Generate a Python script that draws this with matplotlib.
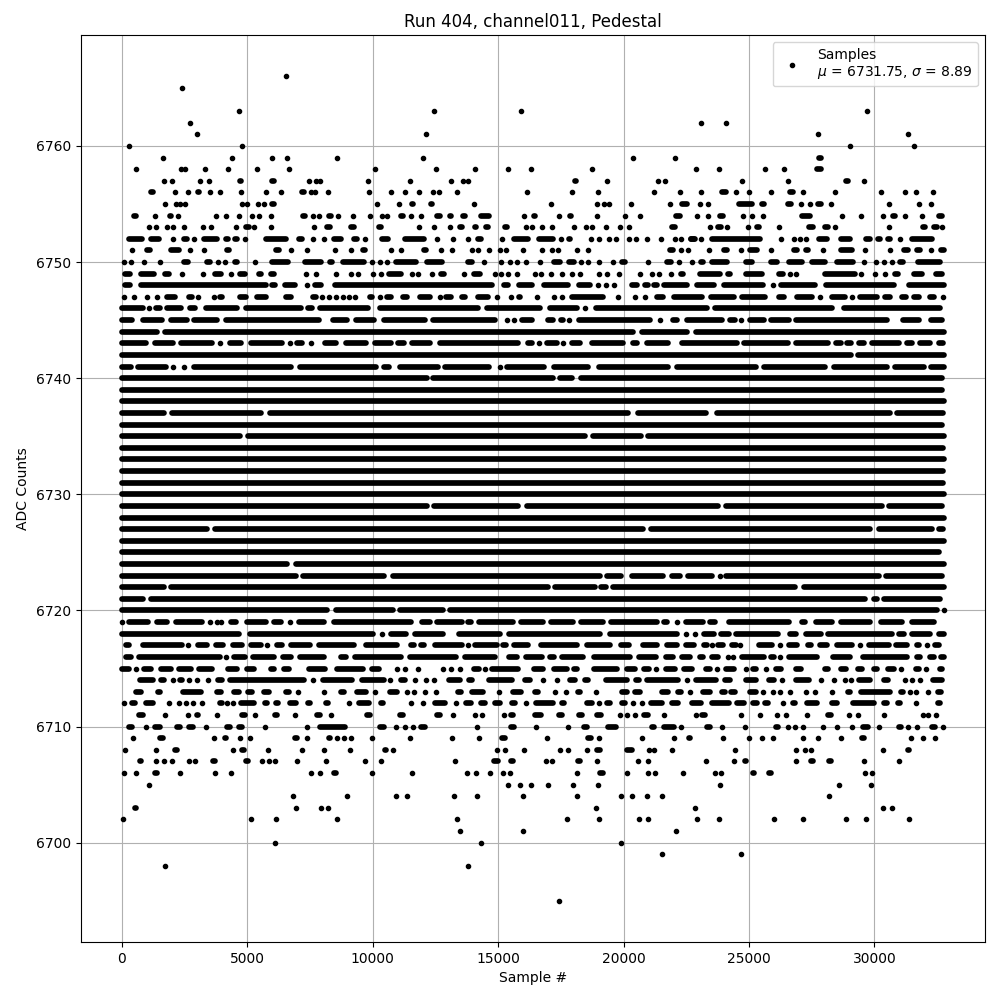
import matplotlib
matplotlib.use("Agg")
import matplotlib.pyplot as plt

TITLE = "Run 404, channel011, Pedestal"
XLABEL = "Sample #"
YLABEL = "ADC Counts"
LEGEND = "Samples\n$\\mu$ = 6731.75, $\\sigma$ = 8.89"
LAST_SAMPLE = 32767

# Sample numbers read per ADC level. A number is one sample; a pair is a run
# of samples that overlap into one unbroken stretch in the picture.
r6766 = [6570]
r6765 = [2420]
r6763 = [4695, 12435, 15905, 29710]
r6762 = [2740, 23085, 24080]
r6761 = [3020, 12115, 27755, 31345]
r6760 = [306, 4815, 29030, 31585]
r6759 = [1660, 4415, 6010, 6610, 8565, 11995, 20370, 22050, (27755, 27925)]
r6758 = [585, 2380, 2540, 3340, 4255, 5410, 6690, 10080, 12510, 14070, 15385, 16305, 18735, 22885, 23805, 25640, 26395, (27635, 27950), (30110, 30175)]
r6757 = [1700, 2020, 3140, 3470, (4700, 4770), (5945, 6130), 7450, 7730, 7925, 9800, 11475, 13110, 13590, 13790, (18020, 18150), 19335, 21370, 21650, 24720, 26555, (28820, 28990), 29590]
r6756 = [(1155, 1290), 2140, 2660, (3020, 3125), 3540, 3935, 4775, 5770, 6370, (7180, 7290), 7530, 7690, 8205, 9840, 10720, 11275, 11835, 12395, 12630, 13350, 16145, 17940, 18975, 21210, 22234, 23085, (23830, 24190), 24480, 25000, 25880, (26595, 26795), 27155, 28430, 30265, 31225, 31665, 32340]
r6755 = [1740, 2180, 2340, 2540, 4815, 5015, 5450, 5690, (5930, 6145), 10160, 11063, (11560, 11640), (12300, 12400), 14030, 17100, 18935, 19215, 19415, 20295, 21850, (22234, 22635), 23045, 23365, (24495, 25225), (25465, 25665), (26515, 26715), 27075, 27435, (27715, 27915), 28270, 30585, 31780, 32260]
r6754 = [(465, 625), 1345, (1900, 2000), 2260, 3775, 4175, 4695, 5215, 5490, 5970, (7170, 7330), 7610, 7885, (8205, 8390), 8605, 9205, 9880, 10360, 10560, (11100, 11230), 11515, 11915, (12525, 12765), (13065, 13170), (13590, 13710), (14230, 14750), 16025, (16430, 16500), 17420, (17830, 17930), 18935, 20055, 20655, (22030, 22300), 22925, 23365, (23805, 24030), 24760, 25120, 25560, (27020, 27555), 28710, 29470, 30345, (30680, 30850), 31225, 31905, (32540, 32740)]
r6753 = [1105, 1385, 1820, 2060, 2500, 3260, 3580, 4575, (4920, 5120), 5280, 5970, 7650, (8130, 8380), (9085, 9320), (10240, 10370), 11835, 12435, 13070, (13430, 13590), (14070, 14130), (14500, 14610), (15270, 15370), 16105, 16345, 16740, 17140, 18020, 18495, 18735, 19295, 19855, 20215, (21890, 22100), 23445, (23725, 23925), 24120, 24960, (25265, 25425), 26195, (27290, 27660), (27950, 28190), 28430, 30585, (31875, 32050), (32340, 32540), 32700]
r6752 = [(170, 905), (1065, 1595), 2060, (2420, 2660), 2900, (3180, 3900), (4135, 4295), (4455, 4655), 4935, (5650, 6650), (7010, 7250), 7610, 8085, (8340, 8845), (9205, 9445), 9680, (10280, 10705), (11200, 12150), 12555, 13190, 13790, (14120, 14390), 15160, (15520, 16320), (16520, 17315), 17500, (17780, 17910), 18695, 19015, 19415, 19710, 20215, 20505, 20930, 21505, 22035, 22300, (22635, 22900), (22605, 22900), 23085, (23430, 25560), 26275, 26795, 27035, 27275, (27685, 28220), (28550, 29150), (29615, 29880), (30110, 30280), (30480, 30680), 31025, (31385, 32410)]
r6751 = [425, (985, 1155), (1860, 2380), 2740, 3300, (4135, 4335), (6090, 6330), 6770, 7370, 8510, 9125, (9565, 9760), 10720, 11130, (11995, 12195), 12725, 13150, 13950, 14190, 14630, 15065, 15305, 15985, 16740, 17140, 17380, 18140, 18580, (21810, 22035), 22290, 22565, 23405, (23925, 24190), 24680, (24920, 25425), 25880, (26755, 26955), (27220, 27420), 27955, (28550, 29215), 29630, 30625, (31080, 31410), (31610, 31875), 32260, (32580, 32835)]
r6750 = [105, 385, 905, 1545, (2380, 2740), (3340, 3580), 3855, 4135, (4455, 4655), 5335, (5890, 6730), (7210, 8045), (8245, 8445), (8725, 9775), 9960, 10280, 10560, (10840, 11860), (12060, 12860), (13720, 14055), 14430, 15120, 15465, 15745, 16115, 16660, (17115, 17580), (17710, 18110), 18300, 18580, 19015, 19575, (19905, 20105), 20970, (21635, 21970), 22210, 22715, (23030, 23230), (23405, 24230), (24760, 25225), (25760, 26225), (26490, 27220), (27395, 28150), (28390, 29255), 29590, 30065, 30385, 30705, (30945, 31210), (31610, 32740)]
r6749 = [(65, 425), (665, 1385), (1660, 1940), 2420, 3260, (3620, 4055), 4375, (4615, 5015), (5415, 5615), (5890, 6130), 7330, 7730, 8525, 9125, 9405, 10000, 10320, (10560, 11260), 11555, 11795, 12355, (12660, 12925), 13655, (13925, 14390), 14880, 15120, 15410, 15745, 16460, 16700, 17100, 17540, 17940, 18285, 19040, 19335, 19840, 20640, 21130, 21410, 21890, (22234, 22435), (22925, 23965), (24095, 24295), (24760, 25625), (26090, 26465), 26625, 26890, (27925, 29350), 29470, 30030, 30425, (30745, 31010), (31450, 32010), (32340, 32810)]
r6748 = [(65, 425), (665, 5850), (5920, 6185), (6410, 7010), 7370, (7610, 8045), (8405, 14855), (15185, 15450), (15720, 16450), (16715, 17910), (18110, 18775), 18975, 19310, 19640, (20240, 20640), (20770, 21040), (21170, 21370), (21505, 22635), (22830, 23735), (23895, 25665), 25960, (26155, 27755), (27955, 30880), (31275, 32870)]
r6747 = [105, 505, 1025, 1425, (1700, 2220), (2620, 2860), 3060, 3700, (3900, 4055), (4615, 5055), (5295, 5850), (6435, 6850), (7530, 7845), 8005, 8245, 8550, 8805, 9045, 9320, (9840, 10040), 10280, (10480, 10840), (11130, 11435), (11795, 12395), 12685, (12860, 13190), (13525, 13725), (14095, 14720), 14945, 15520, (15785, 15920), 16545, 17250, 17540, (17845, 19310), 19775, 20465, 20865, (21235, 21700), (21900, 23230), (23365, 24495), (24630, 25760), (26090, 26515), (26820, 27620), 27835, (28190, 28950), 29110, (29310, 30215), (30305, 30705), (31010, 31345), (31475, 31875), (32115, 32450), 32740]
r6746 = [(0, 970), 1105, (1300, 1595), (1700, 2460), (2660, 2990), (3260, 4720), (4855, 7250), (7355, 7650), (7780, 9910), (10175, 14320), (14455, 16780), (16980, 18245), 18470, (18775, 23430), (23525, 28420), (28685, 32740)]
r6745 = [(0, 530), (730, 1730), (1860, 2730), (2790, 3900), (4055, 7980), (8310, 9110), (9245, 10175), (10335, 12195), (12285, 14985), 15345, 15625, (15850, 16450), (16890, 17285), (17445, 17645), 17820, (18110, 21170), 21465, (21900, 22210), (22435, 24030), (24160, 24520), 24680, (24920, 25690), (25760, 26690), (26755, 30610), (31040, 31875), (32145, 32810)]
r6744 = [(0, 1530), (1635, 20505), (20640, 22635), (22765, 32870)]
r6743 = [(0, 1090), (1235, 2155), (2275, 3725), 3935, (4190, 4855), (5055, 6515), 6715, (6875, 7315), 7540, (7980, 8645), (8820, 9840), (9975, 10840), (10905, 11355), (11460, 12395), (12595, 15920), (16090, 16450), 16620, (16850, 17445), 17580, (17820, 18380), (18620, 20080), (20305, 20640), (20840, 21900), (22235, 24630), (24695, 26650), (26755, 28245), (28380, 28750), (28815, 29150), (29285, 29680), (29775, 31080), (31210, 31610), (31705, 32340), (32500, 32810)]
r6742 = [(0, 29175), (29245, 32870)]
r6741 = [(0, 465), (560, 1860), 2050, 2490, (2790, 6850), (6985, 10240), (10375, 10770), (10970, 12725), (12790, 14760), 15090, (15250, 16940), (17115, 18710), (18910, 21900), (22035, 25400), (25490, 28150), (28260, 30610), (30705, 32075), (32145, 32870)]
r6740 = [(0, 12260), (12300, 17290), (17340, 18070), (18180, 32790)]
r6739 = [(0, 32810)]
r6738 = [(0, 32870)]
r6737 = [(0, 1800), (1880, 5680), (5785, 20305), (20480, 23390), (23605, 30720), (30785, 32845)]
r6736 = [(0, 32810)]
r6735 = [(0, 4830), (4935, 18580), (18685, 20810), (20865, 32870)]
r6734 = [(0, 32845)]
r6733 = [(0, 32870)]
r6732 = [(0, 32845)]
r6731 = [(0, 32845)]
r6730 = [(0, 32870)]
r6729 = [(0, 12285), (12350, 15920), (16050, 23895), (23965, 30415), (30480, 32810)]
r6728 = [(0, 32870)]
r6727 = [(0, 3500), (3620, 20905), (20970, 29950), (30080, 32410), (32515, 32810)]
r6726 = [(0, 32870)]
r6725 = [(0, 32675)]
r6724 = [(0, 6715), (6825, 32870)]
r6723 = [(0, 7050), (7115, 10575), (10705, 19175), (19240, 20000), (20215, 21700), (21835, 22370), (22475, 23630), 23830, (23990, 30280), (30345, 32810)]
r6722 = [(0, 1795), (1860, 17115), (17180, 18975), (19015, 19375), (19470, 26955), (27090, 32870)]
r6721 = [(0, 970), (1065, 29750), (29920, 30185), (30280, 32740)]
r6720 = [(0, 8310), (8445, 10905), (11000, 12925), (12990, 32610), 32780]
r6719 = [0, (200, 1170), (1290, 1900), (2060, 3325), 3525, 3790, 3950, (4255, 4655), (4895, 5850), (5945, 6450), 6715, (6960, 8180), (8340, 11660), (11860, 12395), (12460, 13655), (13720, 14000), (14150, 15720), (15825, 16890), (17010, 18110), (18180, 19280), (19375, 21435), (21570, 21770), 22130, (22395, 23270), (23365, 23765), (24095, 26690), (27050, 27315), (27555, 28420), (28550, 29950), (30150, 31210), (31385, 32500)]
r6718 = [(0, 4790), (4990, 10110), 10375, (10640, 11460), (11595, 12900), (13350, 15185), (15320, 19175), (19340, 22235), 22500, 22860, (23100, 23700), (23765, 24295), (24360, 26250), (26515, 26995), (27155, 27980), (28045, 30810), (30880, 31250), (31385, 32315), (32475, 32845)]
r6717 = [(130, 330), (730, 2530), 2660, (2925, 3500), (3660, 4165), (4320, 4920), (5055, 5650), 5810, (6120, 6480), (6650, 7610), (7755, 9375), (9640, 11100), (11460, 11730), (11860, 12100), (12395, 13655), 13790, (13960, 15050), (15120, 15385), (15520, 16315), (16585, 18245), (18445, 19575), (19775, 20345), (20665, 21435), (21635, 22235), (22395, 22900), (23165, 23365), 23525, (23700, 24030), (24230, 24560), 24655, (25290, 26025), 26250, (26465, 27020), (27290, 27530), (27715, 28220), (28380, 29215), 29415, (29680, 30680), (30745, 31410), (31650, 31810), 32075, (32340, 32675)]
r6716 = [(65, 465), (570, 4030), 4165, (4350, 5015), (5120, 6185), (6320, 6850), (6985, 8180), (8645, 9020), (9180, 11260), (11395, 13455), (13590, 14985), (15345, 15850), (15985, 16850), (17010, 17285), (17450, 18510), (18710, 20370), (20505, 21410), (21570, 22100), (22235, 22765), (23005, 23230), (23430, 23895), 24160, 24360, (24630, 25690), (25850, 26025), 26250, (26490, 27820), (28220, 29150), (29415, 31410), (31610, 31875), (32145, 32475), (32610, 32810)]
r6715 = [(0, 400), 560, (800, 1300), (1465, 2090), (2195, 2860), (2990, 3700), (4125, 4695), (4880, 5385), (5920, 6120), (6385, 6780), (7355, 8220), (8485, 9710), (9880, 10375), 10970, 11290, 11795, 12790, 13125, 13500, (13960, 14320), 14470, (14655, 15920), (16315, 16915), (17115, 17845), (17980, 18180), (18710, 19840), (20040, 20570), (20705, 21105), 21305, (21570, 22170), (22300, 22835), (23230, 23500), 23725, (23965, 24495), 24865, (25095, 25360), 25680, (25995, 26385), (26795, 27155), (27955, 28220), (28550, 28950), (29285, 29575), (29950, 30150), (30415, 30880), 31065, (31610, 31810), 32065, (32580, 32715)]
r6714 = [(625, 1370), (1530, 1755), 2060, (2260, 2460), 2700, 2990, 3460, (3790, 4055), (4190, 7380), 7620, (7915, 9310), (9480, 10575), 10705, (11040, 11355), 11675, 12125, 12445, (12925, 13590), (13790, 14015), (14520, 15650), (15955, 16385), 16780, 17340, (17780, 18180), (18405, 18670), (19200, 20240), (20440, 20665), (20840, 22300), 22530, (22795, 23805), (23965, 24360), (24790, 25400), (25720, 26090), 26320, (26755, 27490), 27875, 28390, 28815, 29070, (29285, 29950), (30305, 30610), 31235, 31515, 31810, (32235, 32810)]
r6713 = [(490, 865), (1395, 1595), (2330, 3260), (3725, 4055), (4350, 4790), (4960, 5295), (5560, 5985), (6475, 6745), 7035, 8060, (8685, 8940), (9270, 9840), 10095, (10600, 11100), 11355, 11635, 12075, 12510, (13350, 13590), (13855, 14495), 15025, (15490, 16010), (16425, 16650), 17260, 17700, (18115, 18325), 18910, (19840, 20240), (20370, 20770), (21435, 21900), (22130, 22340), 22645, (23060, 23565), (23895, 24070), (24230, 24495), (24960, 25360), 25560, 25960, 26240, 26635, 27275, 27635, 28310, (28925, 29085), (29350, 30745), (31010, 31170), 31410, 31665, 32115, (32450, 32740)]
r6712 = [105, (330, 600), (865, 1370), 1890, 2300, 2570, 2860, 3220, (3855, 4055), 4215, 4455, (4630, 5385), (5650, 5850), (6120, 6280), (6585, 7075), (7355, 7580), (8115, 8270), 9070, (9335, 9975), (10280, 10440), 11530, 11995, (12395, 12990), 13325, (13615, 14015), (14230, 14545), (14785, 15185), (15520, 15720), 16105, (16385, 17315), (17525, 17645), (18445, 18845), 19015, (19310, 19510), (19905, 20105), 20370, 20730, (20970, 21635), (21835, 22300), (22635, 23205), (23430, 24295), (24430, 24895), (25055, 25425), (25560, 25825), 26355, (26690, 26890), (27220, 27820), (28220, 28620), (29020, 30080), (30345, 30545), (30880, 31080), 31640, (32475, 32675)]
r6711 = [(600, 930), 1740, 2660, (2965, 3085), 3815, (4750, 4990), 5335, (6050, 6250), 6890, (7755, 7940), 8325, (9710, 9935), (11063, 11260), (12525, 12765), 13190, 14070, 14350, 15225, (15480, 15650), (16385, 16810), (17380, 17580), (18180, 18380), (18845, 19200), 19855, 20135, 20450, (20730, 21065), 21610, 22885, (23100, 23270), 24680, 25440, 26115, 26475, 27315, (28085, 28350), 28990, 29350, 30385, 31940, 32145, 32460]
r6710 = [(250, 465), 985, (1265, 1595), (2170, 2370), (2580, 2925), 3365, (4165, 4350), (4615, 4880), 5730, 7370, (7805, 9005), (10240, 10505), 10945, 11275, 11595, (11835, 12195), 14150, (15450, 15720), 16500, 17780, (18380, 18580), (19280, 19815), (21065, 21275), (21505, 22130), 22300, (23270, 23500), 23925, 24840, (26025, 26195), 26555, 26835, 27155, 27955, 28510, 29110, (29455, 29815), 30185, (30945, 31120), 31345, 31705, (32235, 32450), 32740]
r6709 = [465, (1500, 1690), 3700, (4085, 4190), 4735, 5135, (6850, 7010), 7370, (8245, 8350), 8565, 8845, 9125, 9960, 11475, 13150, 14230, (15120, 15320), 16940, (18540, 18750), 19015, 20730, 22010, (22565, 22675), 23965, 25000, 25520, 25960, 27155, 27755, 28670, (29480, 29615), 31465, 31940, 32420]
r6708 = [145, 1385, (2090, 2260), 4455, (4790, 4895), 5850, 7170, 8085, 9085, (10465, 10575), 10800, 14945, 15265, 16025, 17460, 17780, 18540, (18910, 19110), (20040, 20440), 21010, 21210, 21930, 24440, 26875, 27235, 27475, 30345, (31320, 31410)]
r6707 = [(705, 810), 1385, 1700, 2020, 2700, 2940, (3620, 3775), (4895, 5080), 5610, 5890, 6130, 6970, 8125, 9680, 10320, 13270, (14785, 15080), (15450, 15650), 16900, 17140, (18140, 18310), 18935, 20570, 20970, 23285, 24400, (24790, 24920), 26875, (27435, 27595), (28150, 28310), 29590, 30985]
r6706 = [105, 585, (1290, 1450), 2340, 3735, 4375, 7530, 7925, (8405, 8565), 9960, 11555, 13750, 14110, 14670, 15185, 15465, 18140, (18975, 19270), 20135, 20970, 21250, 22370, 23645, 23885, (25160, 25225), (25760, 25920), 29630, 29910]
r6705 = [1105, 15385, 15865, 16305, 16980, 17980, 18975, 23845, 28590, 29870]
r6704 = [6810, 8965, 10920, 11355, 13230, 14150, 15985, 18140, 19895, 20335, 20930, 21530, 28190]
r6703 = [(505, 600), 6930, 7965, 8205, 18895, 22845, 30345, 30705]
r6702 = [65, 5175, 6170, 8565, 13350, 17740, 19015, 20610, 20970, 22925, 23805, 26000, 27155, 28870, 29670, 31385]
r6701 = [13470, 15985, 22090]
r6700 = [6130, 14310, 19895]
r6699 = [21530, 24680]
r6698 = [1740, 13790]
r6695 = [17420]

levels = [6766, 6765, 6763, 6762, 6761, 6760, 6759, 6758, 6757, 6756, 6755, 6754, 6753, 6752, 6751,
          6750, 6749, 6748, 6747, 6746, 6745, 6744, 6743, 6742, 6741, 6740, 6739, 6738, 6737, 6736,
          6735, 6734, 6733, 6732, 6731, 6730, 6729, 6728, 6727, 6726, 6725, 6724, 6723, 6722, 6721,
          6720, 6719, 6718, 6717, 6716, 6715, 6714, 6713, 6712, 6711, 6710, 6709, 6708, 6707, 6706,
          6705, 6704, 6703, 6702, 6701, 6700, 6699, 6698, 6695]
rows = [r6766, r6765, r6763, r6762, r6761, r6760, r6759, r6758, r6757, r6756, r6755, r6754, r6753, r6752, r6751,
        r6750, r6749, r6748, r6747, r6746, r6745, r6744, r6743, r6742, r6741, r6740, r6739, r6738, r6737, r6736,
        r6735, r6734, r6733, r6732, r6731, r6730, r6729, r6728, r6727, r6726, r6725, r6724, r6723, r6722, r6721,
        r6720, r6719, r6718, r6717, r6716, r6715, r6714, r6713, r6712, r6711, r6710, r6709, r6708, r6707, r6706,
        r6705, r6704, r6703, r6702, r6701, r6700, r6699, r6698, r6695]

single_x, single_y, run_y, run_a, run_b = [], [], [], [], []
for level, row in zip(levels, rows):
    for item in row:
        if isinstance(item, tuple):
            a, b = item
            inset = min(110, (b - a) * 0.25)
            run_y.append(level)
            run_a.append(a if a == 0 else a + inset)
            run_b.append(min(b - inset, LAST_SAMPLE))
        else:
            single_x.append(item)
            single_y.append(level)

fig, ax = plt.subplots(figsize=(10, 10), dpi=100)
ax.hlines(run_y, run_a, run_b, colors="k", linewidth=4.1, capstyle="round", zorder=2)
ax.plot(single_x, single_y, "k.", label=LEGEND, zorder=2)
ax.set_xlim(-1638, 34405)
ax.set_ylim(6691.45, 6769.55)
ax.set_title(TITLE)
ax.set_xlabel(XLABEL)
ax.set_ylabel(YLABEL)
ax.grid(True)
ax.legend(loc="upper right")
fig.subplots_adjust(left=0.0805, right=0.985, top=0.965, bottom=0.058)
fig.savefig("out.png", dpi=100)
